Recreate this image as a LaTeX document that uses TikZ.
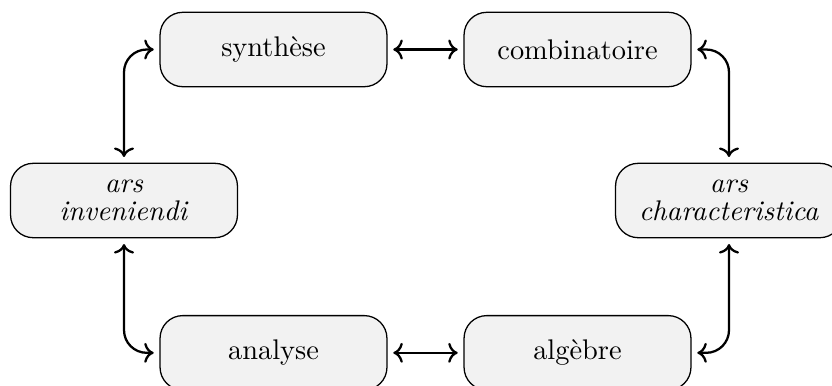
\documentclass[tikz,border=0pt]{standalone}
\usetikzlibrary{arrows.meta}
\tikzset{
  box/.style={draw=black, line width=0.45pt, fill=black!5, rounded corners=8pt,
    minimum width=79.9pt, minimum height=26.2pt, align=center, inner sep=2pt},
  conn/.style={<->, thick, shorten >=2pt, shorten <=2pt},
}
\begin{document}
\begin{tikzpicture}[x=0.35211pt, y=-0.35211pt]
\useasboundingbox (0,0) rectangle (832,385);
\node[box] (syn) at (273.5,49.5) {synthèse};
\node[box] (com) at (577.5,49.5) {combinatoire};
\node[box] (inv) at (124,200.5) {\textit{ars}\\[-2pt]\textit{inveniendi}};
\node[box] (cha) at (729,200.5) {\textit{ars}\\[-2pt]\textit{characteristica}};
\node[box] (ana) at (273.5,352.8) {analyse};
\node[box] (alg) at (577.5,352.8) {algèbre};
\draw[conn] (syn) -- (com);
\draw[conn] (ana) -- (alg);
\draw[conn, rounded corners=8pt] (inv.north) |- (syn.west);
\draw[conn, rounded corners=8pt] (com.east) -| (cha.north);
\draw[conn, rounded corners=8pt] (inv.south) |- (ana.west);
\draw[conn, rounded corners=8pt] (alg.east) -| (cha.south);
\end{tikzpicture}
\end{document}
